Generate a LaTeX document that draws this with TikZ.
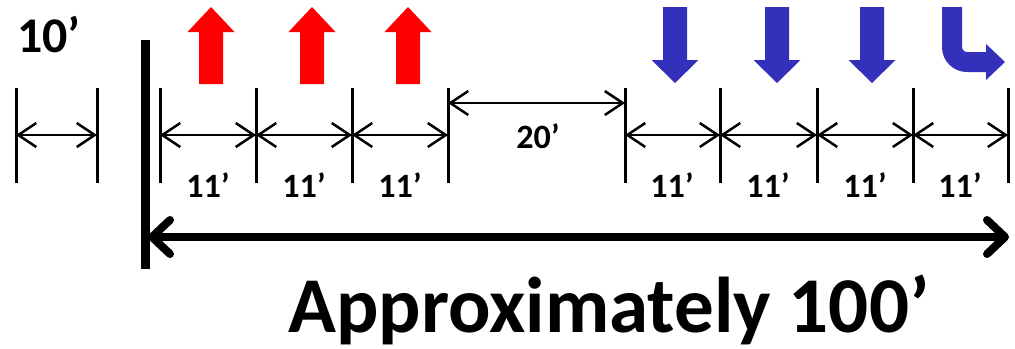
\documentclass[tikz,border=0pt]{standalone}
\usepackage{fontspec}
\setmainfont{Carlito}
\usetikzlibrary{arrows.meta}
\definecolor{upred}{RGB}{255,0,0}
\definecolor{downblue}{RGB}{51,49,187}

\begin{document}
\begin{tikzpicture}[x=0.1mm, y=-0.1mm,
	tick/.style={line width=0.3mm},
	dim/.style={line width=0.15mm, {Straight Barb[length=1.8mm,width=2.4mm,line width=0.25mm]}-{Straight Barb[length=1.8mm,width=2.4mm,line width=0.25mm]}},
	big/.style={line width=0.8mm, {Straight Barb[length=1.8mm,width=3.4mm,round]}-{Straight Barb[length=1.8mm,width=3.4mm,round]}},
	small/.style={font=\bfseries\fontsize{9.7}{11}\selectfont, anchor=base},
	mid/.style={font=\bfseries\fontsize{14.2}{16}\selectfont, anchor=base},
	large/.style={font=\bfseries\fontsize{22.5}{26}\selectfont, anchor=base}]
	\useasboundingbox (0,0) rectangle (1015,349);

	% the 10' scale
	\coordinate (s0) at (16,135);
	\coordinate (s1) at (97,135);
	\draw [tick] (s0) ++(0,-47) -- ++(0,95);
	\draw [tick] (s1) ++(0,-47) -- ++(0,95);
	\draw [dim] (s0) -- (s1);
	\node [mid] (ten) at (49,52) {10’};

	% start line
	\draw [line width=0.9mm] (145,40) -- (145,269);

	% tick marks
	\coordinate (t0) at (160,135);
	\coordinate (t1) at (256,135);
	\coordinate (t2) at (352,135);
	\coordinate (t3) at (448,135);
	\coordinate (t4) at (625,135);
	\coordinate (t5) at (720,135);
	\coordinate (t6) at (817,135);
	\coordinate (t7) at (913,135);
	\coordinate (t8) at (1008,135);
	\draw [tick] (t0) ++(0,-47) -- ++(0,95);
	\draw [tick] (t1) ++(0,-47) -- ++(0,95);
	\draw [tick] (t2) ++(0,-47) -- ++(0,95);
	\draw [tick] (t3) ++(0,-47) -- ++(0,95);
	\draw [tick] (t4) ++(0,-47) -- ++(0,95);
	\draw [tick] (t5) ++(0,-47) -- ++(0,95);
	\draw [tick] (t6) ++(0,-47) -- ++(0,95);
	\draw [tick] (t7) ++(0,-47) -- ++(0,95);
	\draw [tick] (t8) ++(0,-47) -- ++(0,95);

	\draw [dim] (t0) -- (t1);
	\draw [dim] (t1) -- (t2);
	\draw [dim] (t2) -- (t3);
	\draw [dim] (t4) -- (t5);
	\draw [dim] (t5) -- (t6);
	\draw [dim] (t6) -- (t7);
	\draw [dim] (t7) -- (t8);

	\node [small] (d1) at (208,197) {11’};
	\node [small] (d2) at (304,197) {11’};
	\node [small] (d3) at (400,197) {11’};
	\node [small] (d4) at (672,197) {11’};
	\node [small] (d5) at (768,197) {11’};
	\node [small] (d6) at (865,197) {11’};
	\node [small] (d7) at (960,197) {11’};

	% the 20' gap
	\coordinate (g0) at (448,103);
	\coordinate (g1) at (625,103);
	\draw [dim] (g0) -- (g1);
	\node [small] (gap) at (538,148) {20’};

	% red arrows
	\fill [upred] (199,84) -- (199,32) -- (187.5,32) -- (211,7) -- (234.5,32) -- (223,32) -- (223,84) -- cycle;
	\fill [upred] (300,84) -- (300,32) -- (288.5,32) -- (312,7) -- (335.5,32) -- (324,32) -- (324,84) -- cycle;
	\fill [upred] (396,84) -- (396,32) -- (384.5,32) -- (408,7) -- (431.5,32) -- (420,32) -- (420,84) -- cycle;

	% blue arrows
	\fill [downblue] (663,7) -- (663,60) -- (651.5,60) -- (675,83) -- (698.5,60) -- (687,60) -- (687,7) -- cycle;
	\fill [downblue] (765,7) -- (765,60) -- (753.5,60) -- (777,83) -- (800.5,60) -- (789,60) -- (789,7) -- cycle;
	\fill [downblue] (860,7) -- (860,60) -- (848.5,60) -- (872,83) -- (895.5,60) -- (884,60) -- (884,7) -- cycle;
	\draw [downblue, line width=2mm, rounded corners=1.5mm] (952,7) -- (952,62) -- (990,62);
	\fill [downblue] (986,44) -- (1005,62) -- (986,80) -- cycle;

	% total length
	\coordinate (b0) at (148,237);
	\coordinate (b1) at (1009,237);
	\draw [big] (b0) -- (b1);
	\node [large] (total) at (609,332) {Approximately 100’};
\end{tikzpicture}
\end{document}
